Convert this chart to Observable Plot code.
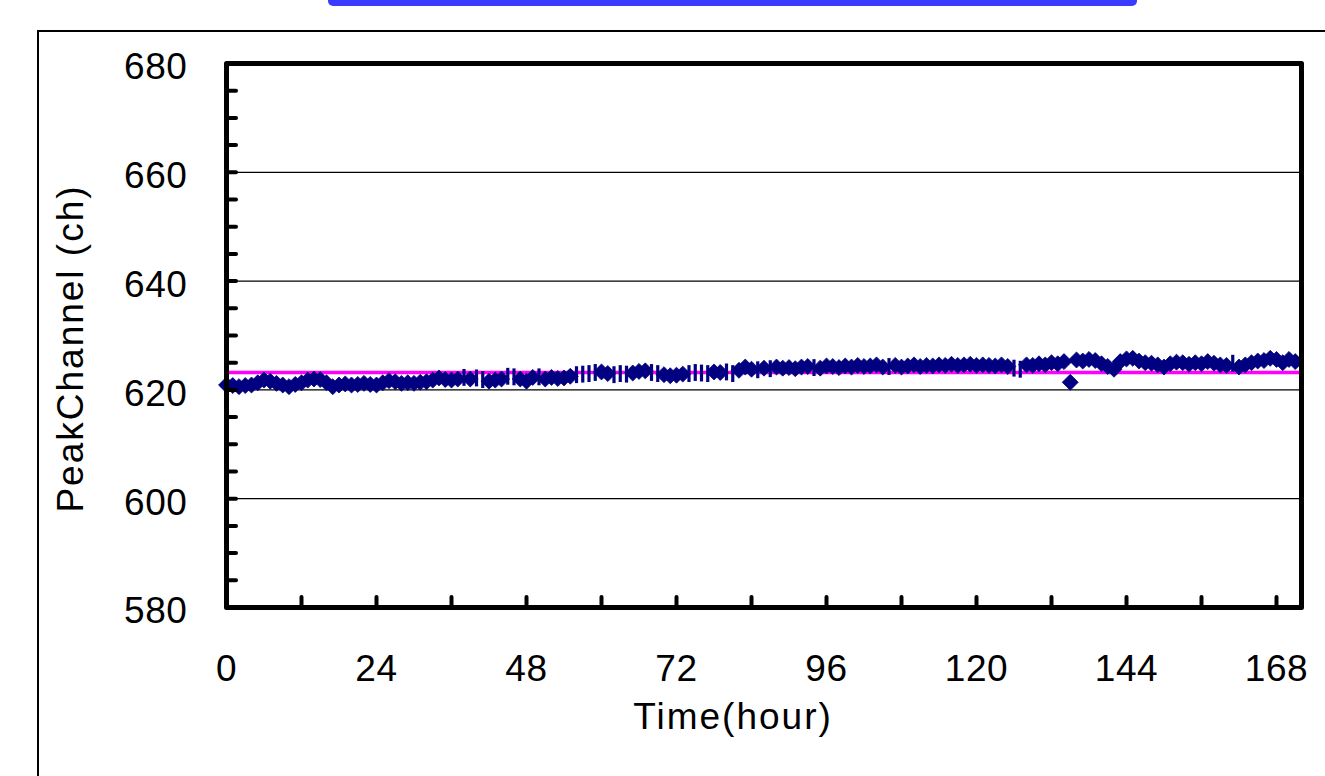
<!DOCTYPE html>
<html>
<head>
<meta charset="utf-8">
<script src="https://cdn.jsdelivr.net/npm/d3@7"></script>
<script src="https://cdn.jsdelivr.net/npm/@observablehq/plot@0.6"></script>
<style>
  html, body { margin: 0; padding: 0; background: #fff; overflow: hidden; }
  #wrap { position: relative; width: 1325px; height: 776px; }
  #outer { position: absolute; left: 37px; top: 30px; width: 1400px; height: 900px;
           border-left: 2px solid #000; border-top: 2px solid #000; box-sizing: border-box; }
  #bar { position: absolute; left: 328px; top: 0; width: 809px; height: 6px;
         background: #3b3bff; border-radius: 0 0 5px 5px; }
  #chart { position: absolute; left: 0; top: 0; }
  #chart svg text { letter-spacing: 0.6px; }
</style>
</head>
<body>
<div id="wrap">
  <div id="outer"></div>
  <div id="bar"></div>
  <div id="chart"></div>
</div>
<script>
// ---- data ----
const hours = [
  0,1,2,3,4,5,6,7,8,9,10,11,12,13,14,15,16,17,18,19,
  20,21,22,23,24,25,26,27,28,29,30,31,32,33,34,35,36,37,38,39,
  40,41,42,43,44,45,46,47,48,49,50,51,52,53,54,55,56,57,58,59,
  60,61,62,63,64,65,66,67,68,69,70,71,72,73,74,75,76,77,78,79,
  80,81,82,83,84,85,86,87,88,89,90,91,92,93,94,95,96,97,98,99,
  100,101,102,103,104,105,106,107,108,109,110,111,112,113,114,115,116,117,118,119,
  120,121,122,123,124,125,126,127,128,129,130,131,132,133,134,135,136,137,138,139,
  140,141,142,143,144,145,146,147,148,149,150,151,152,153,154,155,156,157,158,159,
  160,161,162,163,164,165,166,167,168,169,170,171
];
const peakChannel = [
  620.9,620.8,620.6,620.8,620.9,621.3,621.8,621.6,621.2,620.9,
  620.6,621.0,621.3,621.8,622.0,621.9,621.3,620.6,620.9,621.1,
  620.9,621.0,621.2,621.0,620.9,621.3,621.7,621.5,621.2,621.3,
  621.2,621.4,621.5,621.8,622.2,621.9,621.8,622.0,622.3,622.0,
  622.2,621.9,621.6,621.8,622.0,622.5,622.4,622.0,621.6,622.3,
  622.4,622.0,622.3,622.1,622.2,622.5,622.8,622.9,623.0,623.2,
  623.3,623.0,622.8,623.0,622.9,623.1,623.4,623.5,623.2,623.0,
  622.8,622.6,622.7,622.9,623.0,623.2,623.1,623.0,623.3,623.2,
  623.3,623.0,623.6,624.2,623.8,623.7,624.0,623.9,624.2,624.0,
  624.1,623.9,624.2,624.3,624.1,624.0,624.4,624.3,624.1,624.4,
  624.2,624.5,624.3,624.4,624.6,624.2,624.3,624.5,624.2,624.4,
  624.6,624.3,624.5,624.4,624.6,624.5,624.7,624.5,624.6,624.7,
  624.5,624.6,624.5,624.4,624.6,624.3,624.0,623.8,624.6,624.5,
  624.8,624.6,625.0,624.8,625.2,621.4,625.5,625.3,625.6,625.4,
  624.8,624.3,623.8,625.2,625.7,625.8,625.3,625.0,624.9,624.6,
  624.2,624.8,625.1,625.0,624.7,625.0,624.8,625.2,624.9,624.6,
  624.5,624.9,624.2,624.6,625.0,625.3,625.4,625.8,625.6,625.0,
  625.6,625.2
];
// hours whose marker is drawn as a short vertical bar instead of a diamond
const barMarkerHours = [38,40,41,45,46,50,56,57,58,59,62,63,64,68,69,74,75,76,77,80,81,85,87,94,106,126,127,161];
const averageLine = [623.2];
const gridValues = [600, 620, 640, 660];
const yLabelTicks = [580, 600, 620, 640, 660, 680];
const yMinorTicks = [585,590,595,600,605,610,615,620,625,630,635,640,645,650,655,660,665,670,675];
const xLabelTicks = [0, 24, 48, 72, 96, 120, 144, 168];
const xMinorTicks = [12, 24, 36, 48, 60, 72, 84, 96, 108, 120, 132, 144, 156, 168];
const xTitle = "Time(hour)";
const yTitle = "PeakChannel (ch)";

// ---- build table ----
const barSet = new Set(barMarkerHours);
const rows = hours.map((h, i) => ({hour: h, value: peakChannel[i], bar: barSet.has(h)}));
const diamondRows = rows.filter(d => !d.bar);
const barRows = rows.filter(d => d.bar);

const vbar = {
  draw(context, size) {
    const h = Math.sqrt(size) * 0.68;
    context.moveTo(0, -h);
    context.lineTo(0, h);
  }
};

const font = "'Liberation Sans', Arial, sans-serif";
const navy = "#000080";
const fs = 37;

const chart = Plot.plot({
  width: 1325,
  height: 776,
  marginLeft: 226,
  marginRight: 24,
  marginTop: 63,
  marginBottom: 169,
  style: {fontFamily: font, fontSize: fs + "px", color: "#000", background: "transparent"},
  x: {domain: [0, 172]},
  y: {domain: [580, 680]},
  marks: [
    Plot.ruleY(gridValues, {stroke: "#000", strokeWidth: 1.2}),
    Plot.ruleY(averageLine, {stroke: "#ff00ff", strokeWidth: 3.5}),
    Plot.dot(barRows, {x: "hour", y: "value", symbol: vbar, r: 7, fill: "none", stroke: navy, strokeWidth: 3.2}),
    Plot.dot(diamondRows, {x: "hour", y: "value", symbol: "diamond2", r: 7.2, fill: navy, stroke: navy, strokeWidth: 0.8}),
    Plot.frame({stroke: "#000", strokeWidth: 5, strokeLinejoin: "round"}),
    Plot.axisY({ticks: yMinorTicks, tickSize: -10, tickFormat: () => "", strokeWidth: 4, strokeLinecap: "round", label: null}),
    Plot.axisY({ticks: yLabelTicks, tickSize: 0, tickPadding: 39, dy: 4, label: null, fontSize: fs}),
    Plot.axisX({ticks: xLabelTicks, tickSize: 0, tickPadding: 47, label: null, fontSize: fs}),
    Plot.axisX({ticks: xMinorTicks, tickSize: -10, tickFormat: () => "", strokeWidth: 4, strokeLinecap: "round", label: null}),
    Plot.text([xTitle], {text: d => d, frameAnchor: "bottom", textAnchor: "middle", dx: -31, dy: 121, fontSize: fs, fill: "#000"}),
    Plot.text([yTitle], {text: d => d, frameAnchor: "left", textAnchor: "middle", rotate: -90, dx: -155, dy: 13, fontSize: fs, fill: "#000"})
  ]
});
d3.select(chart).selectAll("text")
  .filter(function() { return this.textContent === xTitle || this.textContent === yTitle; })
  .style("letter-spacing", "2px");
document.getElementById("chart").appendChild(chart);
</script>
</body>
</html>
